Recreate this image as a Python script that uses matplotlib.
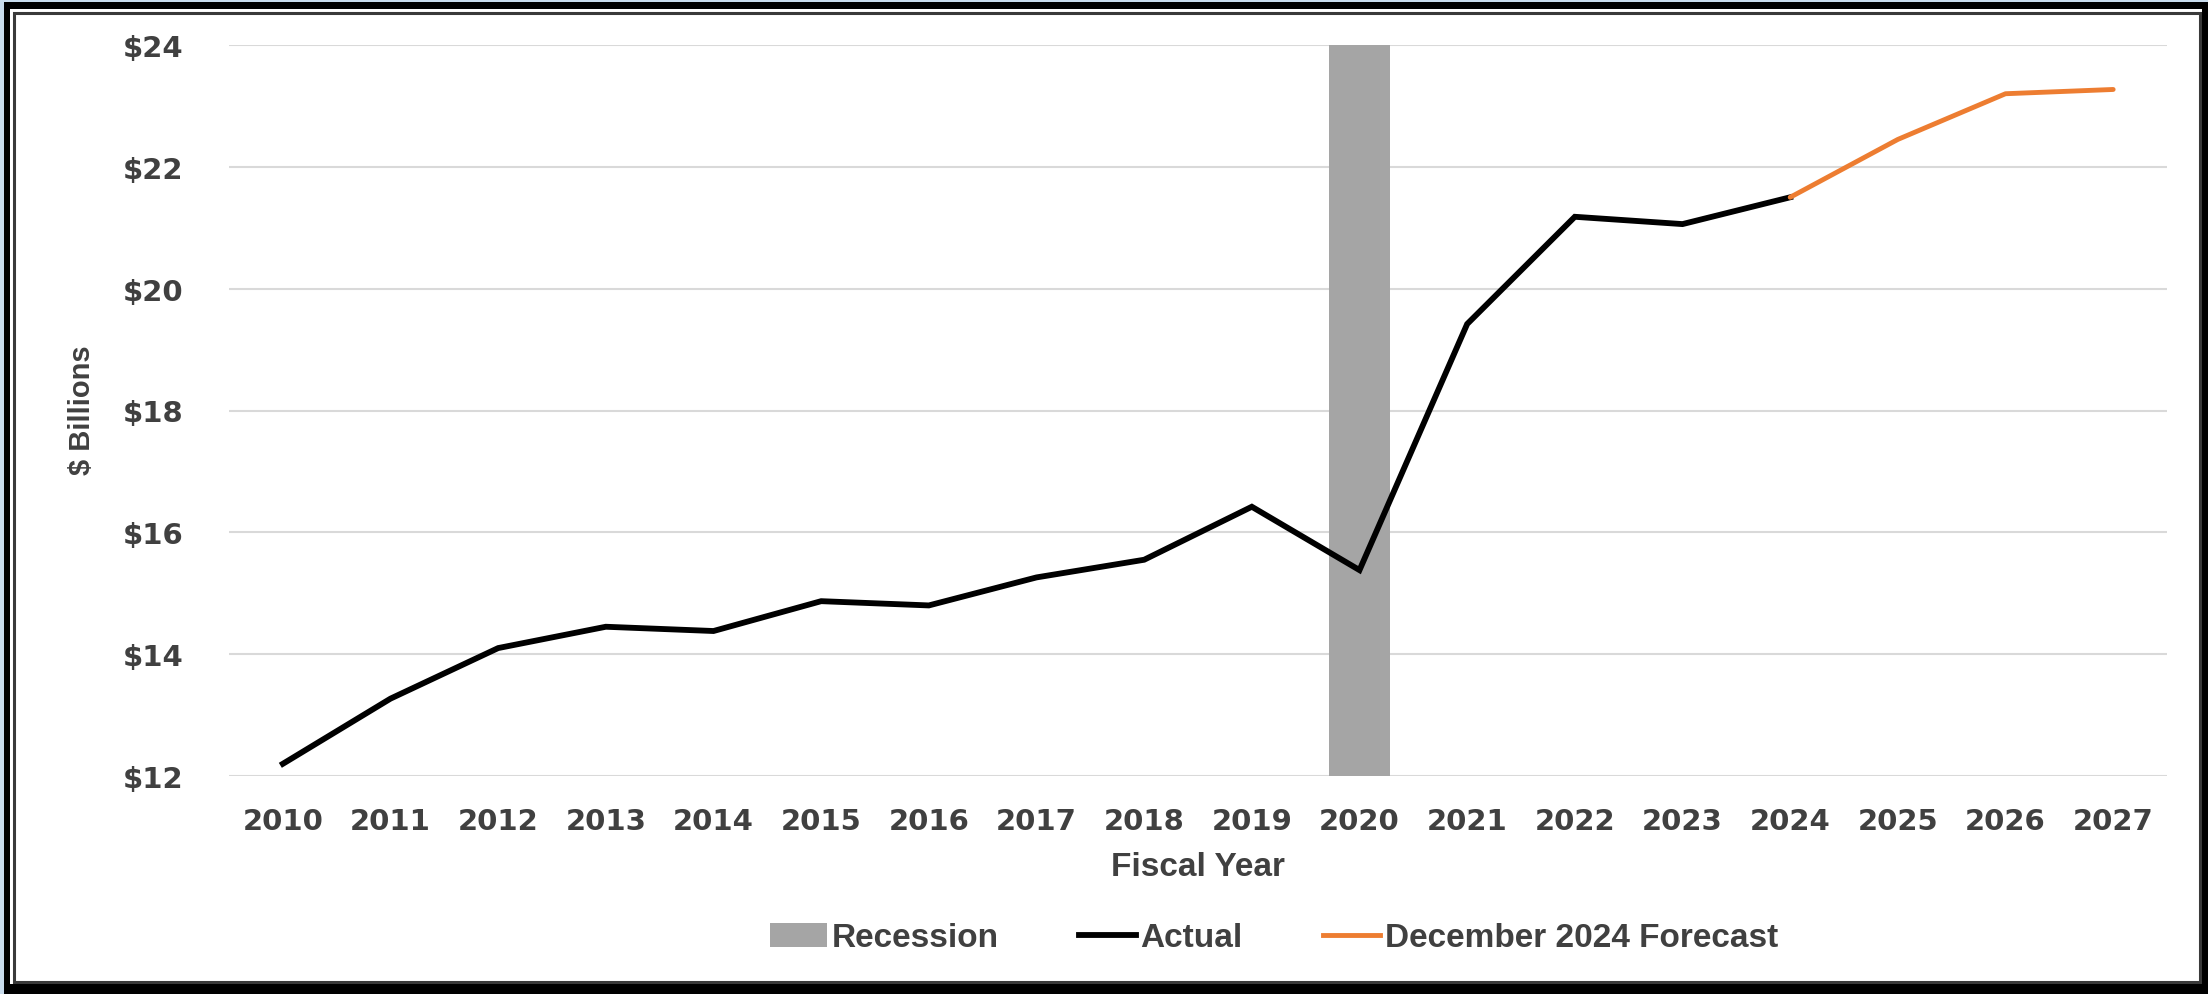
import numpy as np
import matplotlib.pyplot as plt
from matplotlib.patches import Rectangle, Patch
from matplotlib.lines import Line2D

# Revenue by fiscal year ($ billions)
years = [2010, 2011, 2012, 2013, 2014, 2015, 2016, 2017, 2018,
         2019, 2020, 2021, 2022, 2023, 2024, 2025, 2026, 2027]
actual_years = years[:15]
actual = [12.2, 13.27, 14.1, 14.45, 14.38, 14.87, 14.8, 15.26, 15.55,
          16.42, 15.38, 19.42, 21.18, 21.06, 21.5]
forecast_years = [2024, 2025, 2026, 2027]
forecast = [21.5, 22.45, 23.2, 23.27]
recession_year = 2020
y_ticks = [12, 14, 16, 18, 20, 22, 24]
y_tick_labels = ['$12', '$14', '$16', '$18', '$20', '$22', '$24']

TXT = '#404040'
NARROW = ['Liberation Sans Narrow', 'Liberation Sans', 'DejaVu Sans']

W, H = 2208, 995
fig = plt.figure(figsize=(W / 100, H / 100), dpi=100)
fig.patch.set_facecolor('white')

# frame around the chart
fig.add_artist(Rectangle((0, 0), 1, 1, transform=fig.transFigure,
                         facecolor='#c9dced', edgecolor='none', zorder=-3))
fig.add_artist(Rectangle((4 / W, 0), 1 - 4 / W, 1 - 3 / H, transform=fig.transFigure,
                         facecolor='black', edgecolor='none', zorder=-2))
fig.add_artist(Rectangle((10 / W, 10 / H), 1 - 16 / W, 1 - 20 / H, transform=fig.transFigure,
                         facecolor='white', edgecolor='none', zorder=-1))
fig.add_artist(Rectangle((14 / W, 12 / H), 1 - 22 / W, 1 - 26 / H, transform=fig.transFigure,
                         facecolor='white', edgecolor='#3a3a3a', linewidth=2.2, zorder=-1))

ax = fig.add_axes([229 / W, (H - 777) / H, 1938 / W, (777 - 46) / H])
ax.set_facecolor('none')

x = np.arange(len(years))
pos = {yr: i for i, yr in enumerate(years)}

# recession shading
ax.bar(pos[recession_year], 12, bottom=12, width=0.56, color='#a5a5a5', zorder=1)

ax.plot([pos[y] for y in actual_years], actual, color='black', linewidth=4.2,
        solid_joinstyle='miter', zorder=3)
ax.plot([pos[y] for y in forecast_years], forecast, color='#ed7d31', linewidth=3.5,
        solid_capstyle='round', zorder=3)

ax.set_xlim(-0.5, len(years) - 0.5)
ax.set_ylim(12, 24)
ax.set_yticks(y_ticks)
ax.set_yticklabels(y_tick_labels)
ax.set_xticks(x)
ax.set_xticklabels([str(y) for y in years])
ax.grid(axis='y', color='#d9d9d9', linewidth=1.5, zorder=0)
ax.set_axisbelow(True)
for s in ax.spines.values():
    s.set_visible(False)
ax.tick_params(length=0, colors=TXT)
ax.tick_params(axis='y', pad=33)
ax.tick_params(axis='x', pad=22)
for lab in ax.get_xticklabels() + ax.get_yticklabels():
    lab.set_fontweight('bold')
    lab.set_fontsize(21)
    lab.set_color(TXT)

fig.text(82 / W, 1 - 410 / H, '$ Billions', rotation=90, ha='center', va='center',
         fontsize=21, fontweight='bold', color=TXT, family=NARROW)
fig.text((229 + 1938 / 2) / W, 1 - 868 / H, 'Fiscal Year', ha='center', va='center',
         fontsize=24, fontweight='bold', color=TXT, family=NARROW)

handles = [Patch(facecolor='#a5a5a5', edgecolor='none'),
           Line2D([], [], color='black', linewidth=4.2),
           Line2D([], [], color='#ed7d31', linewidth=3.5)]
leg = fig.legend(handles, ['Recession', 'Actual', 'December 2024 Forecast'],
                 loc='center', bbox_to_anchor=(1274 / W, 1 - 939 / H), ncol=3,
                 frameon=False, handlelength=1.7, handletextpad=0.15, columnspacing=2.4,
                 prop={'family': NARROW, 'weight': 'bold', 'size': 24})
for t in leg.get_texts():
    t.set_color(TXT)

fig.savefig('out.png', dpi=100)
